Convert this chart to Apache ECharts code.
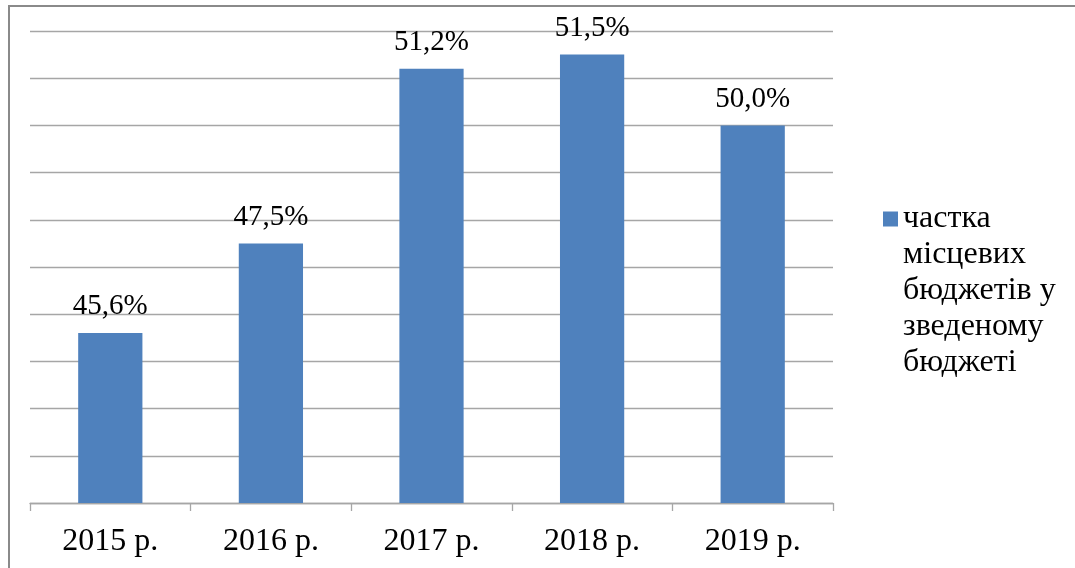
<!DOCTYPE html>
<html>
<head>
<meta charset="utf-8">
<script src="https://cdn.jsdelivr.net/npm/echarts@6/dist/echarts.min.js"></script>
<style>
  html, body { margin: 0; padding: 0; background: #fff; overflow: hidden; }
  #frame {
    position: absolute; left: 8px; top: 5px;
    width: 1200px; height: 700px;
    border: 2px solid #8a8a8a;
  }
  #chart { position: absolute; left: 0; top: 0; width: 1075px; height: 568px; }
</style>
</head>
<body>
<div id="frame"></div>
<div id="chart"></div>
<script>
// частка місцевих бюджетів у зведеному бюджеті
var years = ['2015 р.', '2016 р.', '2017 р.', '2018 р.', '2019 р.'];
var shares = [45.6, 47.5, 51.2, 51.5, 50.0];
var seriesName = 'частка місцевих бюджетів у зведеному бюджеті';
var legendLines = ['частка', 'місцевих', 'бюджетів у', 'зведеному', 'бюджеті'];

(function() {
  var chartDom = document.getElementById('chart');
  var myChart = echarts.init(chartDom);
  var option;
  var serif = '"Liberation Serif", "Times New Roman", serif';

  option = {
    animation: false,
    textStyle: { fontFamily: serif },
    grid: {
      left: 30,
      right: 242,
      top: 31,
      bottom: 65
    },
    legend: {
      data: [seriesName],
      orient: 'vertical',
      left: 878,
      top: 52,
      itemWidth: 15,
      itemHeight: 15,
      icon: 'rect',
      // blank lines above keep the first line level with the marker
      formatter: function() {
        return '\n\n\n\n' + legendLines.join('\n');
      },
      textStyle: {
        fontFamily: serif,
        fontSize: 32,
        color: '#000',
        lineHeight: 36
      }
    },
    xAxis: {
      type: 'category',
      data: years,
      axisLine: { lineStyle: { color: '#a6a6a6', width: 1.3 } },
      axisTick: { show: true, length: 8, lineStyle: { color: '#a6a6a6', width: 1.3 } },
      axisLabel: {
        color: '#000',
        fontSize: 32,
        fontFamily: serif,
        margin: 23
      }
    },
    yAxis: {
      type: 'value',
      min: 42,
      max: 52,
      interval: 1,
      axisLine: { show: false },
      axisTick: { show: false },
      axisLabel: { show: false },
      splitLine: { lineStyle: { color: '#a6a6a6', width: 1.3 } }
    },
    series: [
      {
        name: seriesName,
        type: 'bar',
        barWidth: '40%',
        data: shares,
        itemStyle: { color: '#4f81bd' },
        label: {
          show: true,
          position: 'top',
          distance: 12,
          color: '#000',
          fontSize: 29,
          fontFamily: serif,
          formatter: function(p) {
            return p.value.toFixed(1).replace('.', ',') + '%';
          }
        }
      }
    ]
  };

  option && myChart.setOption(option);
  window.addEventListener('resize', function() {
    myChart.resize();
  });
})();
</script>
</body>
</html>
